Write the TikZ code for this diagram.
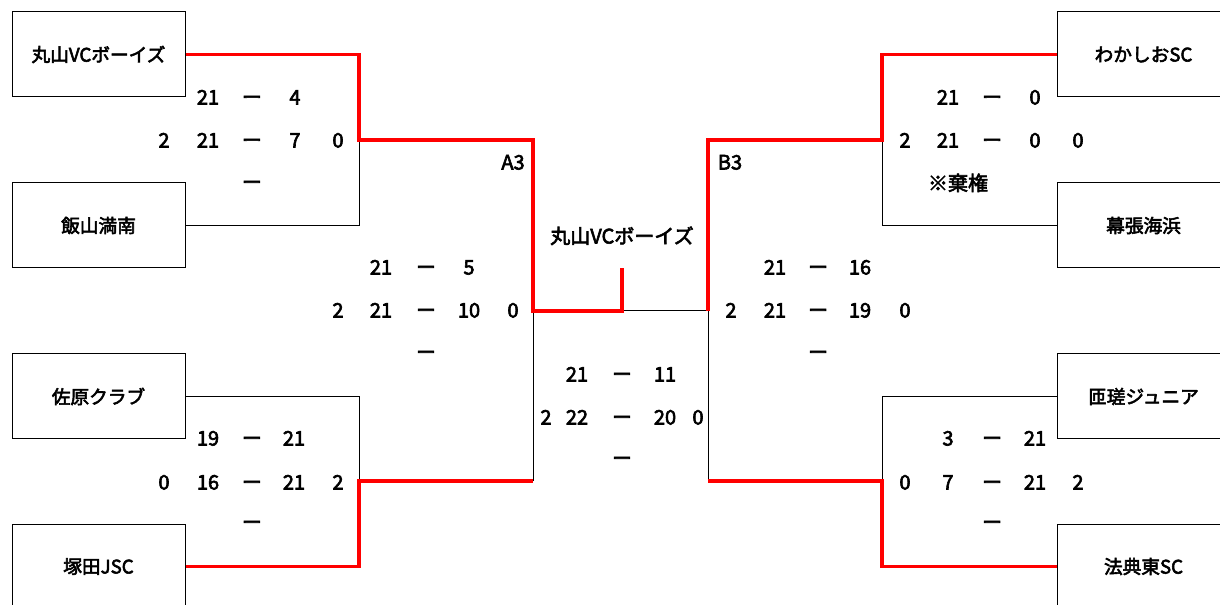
\documentclass[tikz,border=0pt]{standalone}
\usepackage{fontspec}
\setmainfont{Noto Sans CJK JP}[RawFeature={embolden=3}]
\begin{document}
\begin{tikzpicture}[x=0.75pt,y=-0.75pt,
  team/.style={draw=black, line width=0.75pt, minimum width=129.75pt, minimum height=63.75pt, inner sep=0pt, font=\fontsize{14}{16}\selectfont},
  sc/.style={inner sep=0pt, anchor=base, font=\fontsize{15}{17}\selectfont},
  lose/.style={draw=black, line width=0.75pt},
  win/.style={draw=red, line width=2.4pt, line join=miter}]
\useasboundingbox (0,0) rectangle (1220,605);
% teams
\node[team] (t1) at (98.5,54.5) {丸山VCボーイズ};
\node[team] (t2) at (98.5,225.5) {飯山満南};
\node[team] (t3) at (98.5,396.5) {佐原クラブ};
\node[team] (t4) at (98.5,566.5) {塚田JSC};
\node[team] (t5) at (1143.5,54.5) {わかしおSC};
\node[team] (t6) at (1143.5,225.5) {幕張海浜};
\node[team] (t7) at (1143.5,396.5) {匝瑳ジュニア};
\node[team] (t8) at (1143.5,566.5) {法典東SC};
% junction coordinates
\coordinate (j1) at (359,140);
\coordinate (j2) at (359,481);
\coordinate (j3) at (882,140);
\coordinate (j4) at (882,481);
\coordinate (a3) at (533,311);
\coordinate (b3) at (708,311);
\coordinate (a3b) at (533,481);
\coordinate (b3b) at (708,481);
\coordinate (top) at (622,268);
% losing (black) lines
\draw[lose] (t2.east) -| (j1);
\draw[lose] (t3.east) -| (j2);
\draw[lose] (t6.west) -| (j3);
\draw[lose] (t7.west) -| (j4);
\draw[lose] (a3b) -- (a3);
\draw[lose] (top |- b3) -- (b3);
\draw[lose] (b3) -- (b3b);
% winning (red) lines
\draw[win] (t1.east) -| (j1) -| (a3) -| (top);
\draw[win] (t4.east) -| (j2) -- (a3b);
\draw[win] (t5.west) -| (j3) -| (b3);
\draw[win] (t8.west) -| (j4) -- (b3b);
% labels (y = baseline)
\node[sc] (la3) at (513,169.5) {A3};
\node[sc] (lb3) at (730,169.5) {B3};
\node[sc] (champ) at (622,243.5) {丸山VCボーイズ};
\node[sc] (kiken) at (958,190.5) {※棄権};
% scores (y given as text centre; baseline 7.5px lower)
\foreach \n/\x/\y/\t in {
  a1/208/97/21, a2/252/97/ー, a3n/295/97/4,
  a4/164/140/2, a5/208/140/21, a6/252/140/ー, a7/295/140/7, a8/338/140/0,
  a9/252/182/ー,
  b1/208/438/19, b2/252/438/ー, b3n/294/438/21,
  b4/164/482/0, b5/208/482/16, b6/252/482/ー, b7/294/482/21, b8/338/482/2,
  b9/252/522/ー,
  c1/381/267/21, c2/426/267/ー, c3/469/267/5,
  c4/338/310/2, c5/381/310/21, c6/426/310/ー, c7/469/310/10, c8/513/310/0,
  c9/426/352/ー,
  d1/577/374/21, d2/622/374/ー, d3/665/374/11,
  d4/546/417/2, d5/577/417/22, d6/622/417/ー, d7/665/417/20, d8/698/417/0,
  d9/622/458/ー,
  e1/775/267/21, e2/818/267/ー, e3/860/267/16,
  e4/731/310/2, e5/775/310/21, e6/818/310/ー, e7/860/310/19, e8/905/310/0,
  e9/818/352/ー,
  f1/948/97/21, f2/992/97/ー, f3/1035/97/0,
  f4/905/140/2, f5/948/140/21, f6/992/140/ー, f7/1035/140/0, f8/1078/140/0,
  g1/948/438/3, g2/992/438/ー, g3/1035/438/21,
  g4/905/482/0, g5/948/482/7, g6/992/482/ー, g7/1035/482/21, g8/1078/482/2,
  g9/992/522/ー}
  \node[sc] (\n) at (\x,\y+7.5) {\t};
\end{tikzpicture}
\end{document}
